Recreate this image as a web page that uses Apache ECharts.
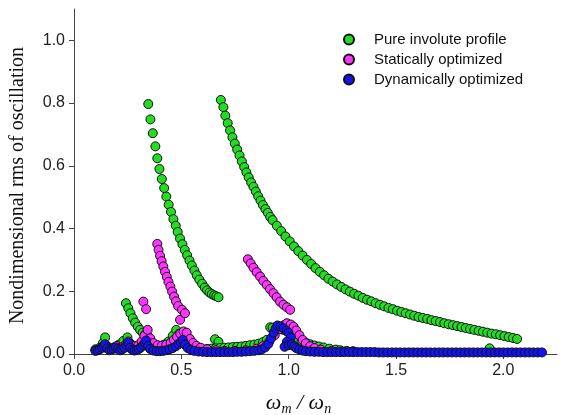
<!DOCTYPE html>
<html>
<head>
<meta charset="utf-8">
<script src="https://cdn.jsdelivr.net/npm/echarts@6/dist/echarts.min.js"></script>
<style>
  html, body { margin: 0; padding: 0; background: #fff; }
  #chart { width: 564px; height: 415px; }
</style>
</head>
<body>
<div id="chart"></div>
<script>
// 图例名称
const seriesNames = ['Pure involute profile', 'Statically optimized', 'Dynamically optimized'];
const xTicks = [0, 0.5, 1.0, 1.5, 2.0];
const yTicks = [0, 0.2, 0.4, 0.6, 0.8, 1.0];

// Pure involute profile: 上支
const pureMain = [
  [0.684,0.810],[0.696,0.787],[0.705,0.760],[0.716,0.736],[0.727,0.713],[0.738,0.691],[0.749,0.671],
  [0.760,0.652],[0.771,0.633],[0.782,0.614],[0.793,0.596],[0.803,0.579],[0.814,0.563],[0.825,0.547],
  [0.836,0.533],[0.847,0.518],[0.858,0.503],[0.869,0.489],[0.880,0.475],[0.892,0.462],[0.903,0.450],
  [0.914,0.437],[0.925,0.427],[0.945,0.409],[0.965,0.392],[0.985,0.375],[1.005,0.359],[1.025,0.343],
  [1.045,0.328],[1.065,0.314],[1.085,0.300],[1.105,0.287],[1.125,0.274],[1.145,0.262],[1.165,0.251],
  [1.185,0.240],[1.205,0.231],[1.225,0.222],[1.245,0.214],[1.265,0.206],[1.285,0.199],[1.305,0.192],
  [1.325,0.186],[1.345,0.179],[1.365,0.173],[1.385,0.168],[1.405,0.162],[1.425,0.157],[1.445,0.152],
  [1.465,0.147],[1.485,0.143],[1.505,0.138],[1.525,0.134],[1.545,0.130],[1.565,0.126],[1.585,0.122],
  [1.605,0.118],[1.625,0.115],[1.645,0.112],[1.665,0.108],[1.685,0.105],[1.705,0.102],[1.725,0.098],
  [1.745,0.095],[1.765,0.092],[1.785,0.089],[1.805,0.086],[1.825,0.083],[1.845,0.080],[1.865,0.077],
  [1.885,0.074],[1.905,0.071],[1.925,0.068],[1.945,0.065],[1.965,0.063],[1.985,0.060],[2.005,0.057],
  [2.025,0.054],[2.045,0.051],[2.064,0.048]
];
const pureMid = [
  [0.346,0.797],[0.356,0.748],[0.367,0.704],[0.379,0.662],[0.388,0.624],[0.398,0.590],[0.409,0.558],
  [0.420,0.529],[0.430,0.502],[0.441,0.476],[0.452,0.453],[0.463,0.430],[0.474,0.409],[0.483,0.389],
  [0.494,0.368],[0.505,0.350],[0.516,0.332],[0.527,0.315],[0.538,0.298],[0.549,0.282],[0.561,0.266],
  [0.572,0.251],[0.584,0.237],[0.597,0.224],[0.609,0.212],[0.620,0.203],[0.631,0.196],[0.642,0.191],
  [0.653,0.187],[0.663,0.184],[0.673,0.181]
];
const pureLow = [
  [0.242,0.162],[0.253,0.146],[0.263,0.130],[0.274,0.114],[0.285,0.100],[0.297,0.087],[0.308,0.077],
  [0.320,0.068],[0.331,0.062],[0.342,0.058]
];
const pureBase = [
  [0.100,0.015],[0.120,0.020],[0.135,0.035],[0.145,0.053],[0.155,0.025],[0.170,0.018],[0.190,0.022],
  [0.210,0.030],[0.230,0.042],[0.249,0.053],[0.260,0.035],[0.280,0.025],[0.300,0.024],[0.320,0.030],
  [0.360,0.030],[0.380,0.024],[0.400,0.025],[0.420,0.030],[0.440,0.040],[0.460,0.058],[0.476,0.077],
  [0.490,0.065],[0.500,0.050],[0.520,0.030],[0.540,0.020],[0.560,0.016],[0.580,0.015],[0.600,0.015],
  [0.620,0.016],[0.640,0.017],[0.657,0.047],[0.673,0.039],[0.660,0.018],[0.680,0.019],[0.700,0.020],
  [0.720,0.021],[0.740,0.022],[0.760,0.023],[0.780,0.024],[0.800,0.026],[0.820,0.028],[0.840,0.030],
  [0.860,0.033],[0.880,0.038],[0.898,0.045],[0.914,0.085],[0.925,0.084],[0.940,0.082],[0.955,0.080],
  [0.970,0.078],[0.985,0.075],[1.000,0.070],[1.015,0.062],[1.038,0.050],[1.060,0.042],[1.080,0.036],
  [1.100,0.031],[1.120,0.027],[1.140,0.024],[1.162,0.021],[1.190,0.017],[1.220,0.014],[1.240,0.012],
  [1.270,0.010],[1.300,0.009],[1.936,0.018]
];

// Statically optimized
const staticUpper = [
  [0.810,0.302],[0.823,0.289],[0.836,0.275],[0.851,0.261],[0.867,0.247],[0.882,0.233],[0.898,0.220],
  [0.913,0.207],[0.929,0.194],[0.944,0.181],[0.960,0.167],[0.976,0.157],[0.992,0.149],[1.007,0.141]
];
const staticMid = [
  [0.388,0.351],[0.394,0.332],[0.401,0.313],[0.408,0.296],[0.416,0.279],[0.424,0.262],[0.432,0.246],
  [0.440,0.230],[0.449,0.215],[0.457,0.199],[0.466,0.183],[0.475,0.168],[0.485,0.153],[0.494,0.109],
  [0.503,0.141],[0.517,0.130]
];
const staticPair = [[0.323,0.167],[0.336,0.143]];
const staticBase = [
  [0.100,0.012],[0.120,0.016],[0.135,0.024],[0.145,0.030],[0.155,0.018],[0.170,0.015],[0.185,0.020],
  [0.200,0.026],[0.210,0.020],[0.225,0.022],[0.240,0.030],[0.253,0.040],[0.265,0.030],[0.280,0.026],
  [0.300,0.028],[0.315,0.040],[0.328,0.058],[0.343,0.077],[0.355,0.050],[0.370,0.035],[0.390,0.028],
  [0.410,0.027],[0.430,0.030],[0.450,0.036],[0.465,0.045],[0.480,0.055],[0.495,0.065],[0.510,0.072],
  [0.525,0.068],[0.540,0.048],[0.555,0.035],[0.570,0.026],[0.590,0.020],[0.620,0.015],[0.660,0.012],
  [0.700,0.010],[0.750,0.010],[0.800,0.012],[0.850,0.017],[0.880,0.025],[0.910,0.040],[0.935,0.060],
  [0.960,0.080],[0.980,0.093],[0.992,0.098],[1.010,0.094],[1.023,0.087],[1.035,0.075],[1.050,0.060],
  [1.065,0.045],[1.080,0.034],[1.100,0.025],[1.120,0.019],[1.150,0.014],[1.200,0.010],[1.250,0.008],
  [1.300,0.007]
];

// Dynamically optimized
const dynBase = [
  [0.100,0.010],[0.110,0.012],[0.120,0.015],[0.130,0.020],[0.138,0.026],[0.145,0.031],[0.155,0.018],
  [0.165,0.012],[0.175,0.014],[0.185,0.017],[0.195,0.021],[0.205,0.016],[0.215,0.012],[0.225,0.015],
  [0.235,0.020],[0.245,0.028],[0.253,0.036],[0.262,0.020],[0.272,0.013],[0.282,0.011],[0.292,0.013],
  [0.302,0.016],[0.312,0.021],[0.322,0.029],[0.330,0.036],[0.336,0.043],[0.345,0.025],[0.355,0.016],
  [0.370,0.011],[0.385,0.009],[0.400,0.009],[0.415,0.010],[0.430,0.012],[0.445,0.015],[0.460,0.019],
  [0.475,0.025],[0.487,0.031],[0.497,0.038],[0.507,0.045],[0.517,0.030],[0.530,0.019],[0.545,0.013],
  [0.560,0.010],[0.580,0.008],[0.600,0.007],[0.620,0.006],[0.640,0.006],[0.660,0.006],[0.680,0.006],
  [0.700,0.006],[0.720,0.006],[0.740,0.006],[0.760,0.007],[0.780,0.007],[0.800,0.008],[0.820,0.009],
  [0.840,0.010],[0.860,0.012],[0.875,0.015],[0.890,0.021],[0.905,0.032],[0.918,0.050],[0.930,0.068],
  [0.940,0.082],[0.948,0.091],[0.962,0.088],[0.976,0.082],[0.990,0.074],[0.999,0.068],[1.010,0.053],
  [0.992,0.039],[0.981,0.023],[1.000,0.028],[1.015,0.031],[1.025,0.025],[1.035,0.019],[1.050,0.014],
  [1.065,0.011],[1.080,0.009],[1.100,0.008],[1.120,0.007],[1.140,0.007],[1.160,0.006],[1.180,0.006],
  [1.200,0.006],[1.220,0.006],[1.240,0.006],[1.260,0.006],[1.280,0.006],[1.300,0.006],[1.320,0.006],
  [1.340,0.006],[1.360,0.006],[1.380,0.006],[1.400,0.006],[1.420,0.005],[1.440,0.005],[1.460,0.005],
  [1.480,0.005],[1.500,0.005],[1.520,0.005],[1.540,0.005],[1.560,0.005],[1.580,0.005],[1.600,0.005],
  [1.620,0.005],[1.640,0.005],[1.660,0.005],[1.680,0.005],[1.700,0.005],[1.720,0.005],[1.740,0.005],
  [1.760,0.005],[1.780,0.005],[1.800,0.005],[1.820,0.005],[1.840,0.005],[1.860,0.005],[1.880,0.005],
  [1.900,0.005],[1.920,0.005],[1.940,0.005],[1.960,0.005],[1.980,0.005],[2.000,0.005],[2.020,0.005],
  [2.040,0.005],[2.060,0.005],[2.080,0.005],[2.100,0.005],[2.120,0.005],[2.140,0.005],[2.160,0.005],
  [2.180,0.005]
];

const colors = ['#22dd22', '#ff33ff', '#1414f0'];

const scatter = (name, data, color) => ({
  name: name,
  type: 'scatter',
  symbol: 'circle',
  symbolSize: 9,
  data: data,
  itemStyle: { color: color, borderColor: '#111', borderWidth: 1, opacity: 1 },
  emphasis: { disabled: true }
});

let chart = echarts.init(document.getElementById('chart'));
chart.setOption({
  animation: false,
  backgroundColor: '#fff',
  grid: { left: 74, right: 7, top: 9, bottom: 61, containLabel: false, outerBoundsMode: 'none' },
  legend: {
    data: seriesNames,
    orient: 'vertical',
    left: 338,
    top: 27,
    icon: 'circle',
    itemWidth: 10,
    itemHeight: 10,
    itemGap: 5,
    textStyle: { fontFamily: 'Liberation Sans', fontSize: 15, color: '#111', padding: [0, 0, 0, 15] }
  },
  xAxis: {
    type: 'value',
    min: 0,
    max: 2.25,
    interval: 0.5,
    name: '{w|ω}{s|m}{t| / }{w|ω}{s|n}',
    nameLocation: 'middle',
    nameGap: 36,
    nameTextStyle: {
      padding: [0, 34, 0, 0],
      rich: {
        w: { fontFamily: 'Liberation Serif', fontStyle: 'italic', fontSize: 22, color: '#111' },
        s: { fontFamily: 'Liberation Serif', fontStyle: 'italic', fontSize: 14, color: '#111', padding: [12, 0, 0, 0] },
        t: { fontFamily: 'Liberation Serif', fontStyle: 'italic', fontSize: 22, color: '#111' }
      }
    },
    axisLine: { lineStyle: { color: '#444', width: 1 } },
    axisTick: { inside: false, length: 5, customValues: xTicks, lineStyle: { color: '#444' } },
    axisLabel: {
      customValues: xTicks,
      formatter: v => v.toFixed(1),
      fontFamily: 'Liberation Sans', fontSize: 16, color: '#222', margin: 9
    },
    splitLine: { show: false }
  },
  yAxis: {
    type: 'value',
    min: 0,
    max: 1.1,
    interval: 0.2,
    name: 'Nondimensional rms of oscillation',
    nameLocation: 'middle',
    nameGap: 46,
    nameTextStyle: { fontFamily: 'Liberation Serif', fontSize: 20, color: '#111', padding: [0, 8, 0, 0] },
    axisLine: { show: true, lineStyle: { color: '#444', width: 1 } },
    axisTick: { show: true, inside: false, length: 5, customValues: yTicks, lineStyle: { color: '#444' } },
    axisLabel: {
      customValues: yTicks,
      formatter: v => v.toFixed(1),
      fontFamily: 'Liberation Sans', fontSize: 16, color: '#222', margin: 9
    },
    splitLine: { show: false }
  },
  series: [
    scatter(seriesNames[0], pureBase.concat(pureLow, pureMid, pureMain), colors[0]),
    scatter(seriesNames[1], staticBase.concat(staticPair, staticMid, staticUpper), colors[1]),
    scatter(seriesNames[2], dynBase, colors[2])
  ]
});
</script>
</body>
</html>
